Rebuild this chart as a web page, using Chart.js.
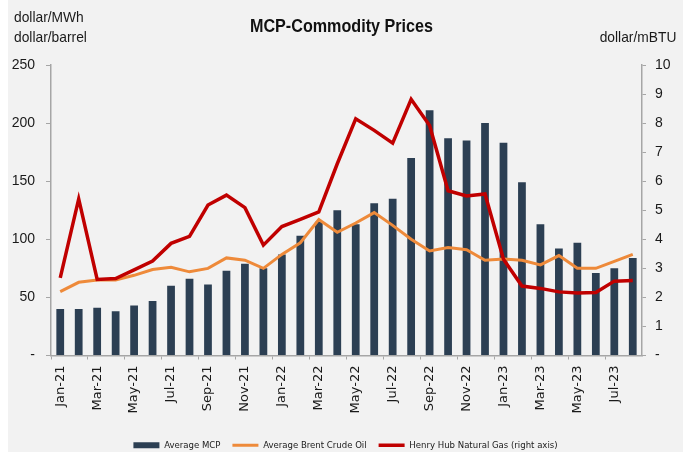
<!DOCTYPE html>
<html>
<head>
<meta charset="utf-8">
<script src="https://cdn.jsdelivr.net/npm/chart.js@4.4.0/dist/chart.umd.min.js"></script>
<style>
  html, body { margin: 0; padding: 0; background: #ffffff; }
  #wrap { position: absolute; left: 8px; top: 0; width: 675px; height: 452px; background: #f2f2f2; }
  #wrap canvas { position: absolute; left: 0; top: 0; }
  .lbl { position: absolute; font-family: "Liberation Sans", sans-serif; font-size: 15px; color: #1a1a1a; line-height: 18px; white-space: nowrap; transform-origin: left center; transform: scaleX(0.92); }
  .lbl.r { transform-origin: right center; }
  #title { position: absolute; left: 0; width: 667px; top: 15px; text-align: center; font-family: "Liberation Sans", sans-serif; font-weight: bold; font-size: 19px; color: #111; transform: scaleX(0.85); }
</style>
</head>
<body>
<div id="wrap">
  <canvas id="chart" width="675" height="452"></canvas>
  <div id="title">MCP-Commodity Prices</div>
  <div class="lbl" style="left:6px; top:8px;">dollar/MWh</div>
  <div class="lbl" style="left:6px; top:28px;">dollar/barrel</div>
  <div class="lbl r" style="right:7px; top:28px;">dollar/mBTU</div>
</div>
<script>
(function () {
  'use strict';

  var months = ['Jan-21', 'Feb-21', 'Mar-21', 'Apr-21', 'May-21', 'Jun-21', 'Jul-21', 'Aug-21',
    'Sep-21', 'Oct-21', 'Nov-21', 'Dec-21', 'Jan-22', 'Feb-22', 'Mar-22', 'Apr-22',
    'May-22', 'Jun-22', 'Jul-22', 'Aug-22', 'Sep-22', 'Oct-22', 'Nov-22', 'Dec-22',
    'Jan-23', 'Feb-23', 'Mar-23', 'Apr-23', 'May-23', 'Jun-23', 'Jul-23', 'Aug-23'];

  // dollar/MWh
  var mcp = [40, 40, 41, 38, 43, 47, 60, 66, 61, 73, 79, 75, 87, 103, 115, 125,
    113, 131, 135, 170, 211, 187, 185, 200, 183, 149, 113, 92, 97, 71, 75, 84];

  // dollar/barrel
  var brent = [55, 63, 65, 65, 69, 74, 76, 72, 75, 84, 82, 75, 87, 97, 117, 106,
    114, 123, 112, 100, 90, 93, 91, 82, 83, 82, 78, 86, 75, 75, 81, 87];

  // dollar/mBTU (right axis)
  var henryHub = [2.67, 5.39, 2.62, 2.65, 2.95, 3.25, 3.86, 4.1, 5.18, 5.52, 5.09, 3.8,
    4.44, 4.69, 4.94, 6.6, 8.15, 7.75, 7.31, 8.82, 7.92, 5.67, 5.49, 5.56,
    3.31, 2.39, 2.31, 2.19, 2.15, 2.17, 2.56, 2.58];

  var leftTicks = [0, 50, 100, 150, 200, 250];
  var rightTicks = [0, 1, 2, 3, 4, 5, 6, 7, 8, 9, 10];

  var axisGray = '#a6a6a6';
  var textColor = '#1a1a1a';

  // pick a narrow face if one is installed
  function hasFont(name) {
    var c = document.createElement('canvas').getContext('2d');
    var s = 'Average Brent Crude Oil 0123456789';
    c.font = '20px monospace';
    var base = c.measureText(s).width;
    c.font = '20px "' + name + '", monospace';
    return c.measureText(s).width !== base;
  }
  var narrow = ['Liberation Sans Narrow', 'DejaVu Sans Condensed', 'Arial Narrow'].filter(hasFont)[0];
  var narrowFamily = narrow ? '"' + narrow + '", sans-serif' : '"Liberation Sans", sans-serif';
  var legendSize = narrow === 'Liberation Sans Narrow' ? 11 : 9.5;
  var tickFont = { family: narrow === 'Liberation Sans Narrow' ? narrowFamily : '"Liberation Sans", sans-serif', size: narrow === 'Liberation Sans Narrow' ? 15 : 14 };

  function dashZero(v) { return v === 0 ? '-' : v; }

  new Chart(document.getElementById('chart'), {
    data: {
      labels: months,
      datasets: [{
        type: 'bar',
        label: 'Average MCP',
        data: mcp,
        backgroundColor: '#2c3f53',
        borderWidth: 0,
        barPercentage: 0.42,
        categoryPercentage: 1,
        yAxisID: 'y',
        order: 3,
        pointStyle: 'rect'
      }, {
        type: 'line',
        label: 'Average Brent Crude Oil',
        data: brent,
        borderColor: '#ee8a3a',
        backgroundColor: '#ee8a3a',
        borderWidth: 3,
        pointRadius: 0,
        tension: 0,
        yAxisID: 'y',
        order: 2,
        pointStyle: 'line'
      }, {
        type: 'line',
        label: 'Henry Hub Natural Gas (right axis)',
        data: henryHub,
        borderColor: '#c00000',
        backgroundColor: '#c00000',
        borderWidth: 3.5,
        pointRadius: 0,
        tension: 0,
        yAxisID: 'y1',
        order: 1,
        pointStyle: 'line'
      }]
    },
    options: {
      responsive: false,
      animation: false,
      layout: { padding: { top: 65, left: 0, right: 0, bottom: -8 } },
      plugins: {
        legend: {
          position: 'bottom',
          labels: {
            usePointStyle: true,
            pointStyleWidth: 26,
            boxHeight: 6,
            padding: 12,
            color: textColor,
            font: { family: narrowFamily, size: legendSize },
            sort: function (a, b) { return a.datasetIndex - b.datasetIndex; }
          }
        },
        tooltip: { enabled: false }
      },
      scales: {
        x: {
          offset: true,
          grid: {
            drawOnChartArea: false,
            offset: true,
            tickLength: 4,
            tickColor: function (c) { return c.index % 2 === 0 ? axisGray : 'rgba(0,0,0,0)'; }
          },
          border: { color: axisGray, width: 1.5 },
          ticks: {
            autoSkip: false,
            minRotation: 90,
            maxRotation: 90,
            padding: 6,
            color: textColor,
            font: { family: '"DejaVu Sans", sans-serif', size: 13 },
            callback: function (v, i) { return i % 2 === 0 ? months[i] : ''; }
          },
          afterFit: function (s) { s.height = 73; }
        },
        y: {
          position: 'left',
          min: 0,
          max: 250,
          afterBuildTicks: function (s) { s.ticks = leftTicks.map(function (v) { return { value: v }; }); },
          grid: { drawOnChartArea: false, tickLength: 5, tickColor: axisGray },
          border: { color: axisGray, width: 1.5 },
          ticks: { padding: 11, color: textColor, font: tickFont, callback: dashZero },
          afterFit: function (s) { s.width = 43; }
        },
        y1: {
          position: 'right',
          min: 0,
          max: 10,
          afterBuildTicks: function (s) { s.ticks = rightTicks.map(function (v) { return { value: v }; }); },
          grid: { drawOnChartArea: false, tickLength: 4, tickColor: axisGray },
          border: { color: axisGray, width: 1.5 },
          ticks: { padding: 9, color: textColor, font: tickFont, callback: dashZero },
          afterFit: function (s) { s.width = 41; }
        }
      }
    }
  });
})();
</script>
</body>
</html>
